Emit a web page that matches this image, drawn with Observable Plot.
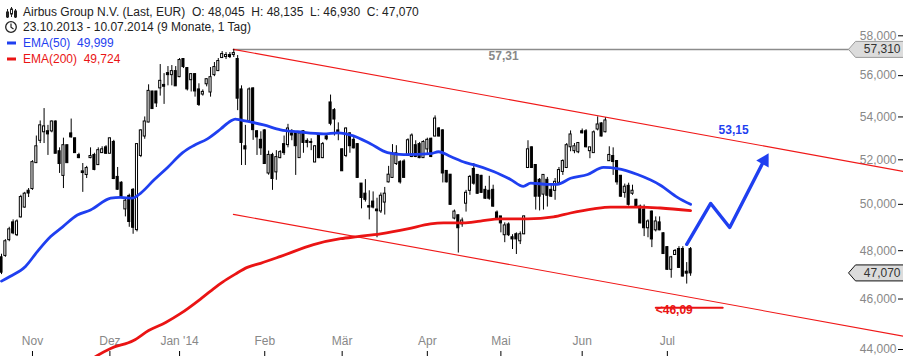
<!DOCTYPE html>
<html><head><meta charset="utf-8">
<script src="https://cdn.jsdelivr.net/npm/d3@7"></script>
<script src="https://cdn.jsdelivr.net/npm/@observablehq/plot@0.6"></script>
<style>
body{margin:0;background:#fff;}
#wrap{position:relative;width:903px;height:356px;overflow:hidden;font-family:"Liberation Sans",Arial,sans-serif;}
.row{position:absolute;left:0;height:16px;line-height:16px;font-size:12px;white-space:pre;}
.row svg{position:absolute;left:0;top:0;}
.row .tx{position:absolute;left:23px;top:0;}
</style></head><body>
<div id="wrap"><div id="chart"></div>
<div class="row" style="top:4px;color:#222">
<svg width="20" height="16"><g stroke="#222" fill="#222"><line x1="7.5" y1="5" x2="7.5" y2="14"/><rect x="6.5" y="8" width="2" height="5"/><line x1="11.5" y1="3" x2="11.5" y2="13"/><rect x="10.5" y="5" width="2" height="5" fill="#fff"/><line x1="15.5" y1="5" x2="15.5" y2="14"/><rect x="14.5" y="7" width="2" height="6"/></g></svg>
<span class="tx" id="t1"></span></div>
<div class="row" style="top:19px;color:#222">
<svg width="20" height="16"><circle cx="11" cy="8" r="5.3" fill="none" stroke="#222" stroke-width="1.3"/><path d="M11 4.5V8.3L13.5 10" fill="none" stroke="#222" stroke-width="1.2"/></svg>
<span class="tx" id="t2"></span></div>
<div class="row" style="top:35px;color:#1f3ff0">
<svg width="20" height="16"><rect x="7" y="6.5" width="9" height="3" fill="#1f3ff0"/></svg>
<span class="tx" id="t3"></span></div>
<div class="row" style="top:51px;color:#ea1414">
<svg width="20" height="16"><rect x="7" y="6.5" width="9" height="3" fill="#ea1414"/></svg>
<span class="tx" id="t4"></span></div>
</div>
<script>
// ---- candle data (daily, 23.10.2013 - 10.07.2014), index = trading day ----
const openP = [47.70,47.80,48.47,49.19,48.68,49.45,49.88,50.58,50.70,51.87,52.90,53.30,53.30,53.34,53.76,52.37,51.29,52.65,53.20,52.97,
52.19,51.45,51.33,52.10,52.20,51.78,52.33,52.55,52.30,52.80,51.20,50.94,49.80,50.35,50.62,48.90,52.20,53.10,53.76,55.20,
55.20,55.40,55.52,56.10,56.05,56.20,55.95,56.80,56.35,55.80,56.05,55.30,55.10,55.60,55.20,56.05,56.25,56.90,56.95,57.00,
57.05,56.80,55.30,52.60,53.81,55.35,53.30,52.90,53.34,51.40,52.20,51.45,52.10,52.70,52.70,53.20,53.20,52.10,53.30,52.85,
52.80,51.90,53.15,52.10,53.06,54.67,54.30,53.34,52.46,52.20,53.20,52.90,52.70,50.90,50.45,49.90,50.10,49.75,49.71,50.10,
51.00,51.20,51.83,51.87,51.90,52.20,52.15,52.65,52.70,52.10,52.50,52.95,53.10,53.43,53.34,51.47,51.30,49.40,49.50,49.15,
50.05,50.62,51.56,51.29,51.25,50.62,50.58,50.62,49.62,49.45,48.68,49.10,48.55,48.68,48.42,48.72,51.65,52.55,51.74,51.07,
50.45,51.07,50.62,50.62,50.98,51.47,51.65,52.60,52.42,52.37,53.30,53.30,52.42,52.33,53.43,53.67,53.30,51.96,52.15,51.92,
51.25,50.53,50.80,50.49,50.18,49.88,49.75,48.98,49.66,48.89,49.19,48.72,48.13,47.22,47.84,48.05,48.05,47.10,48.045];
const highP = [47.85,48.47,49.00,49.32,49.32,50.40,50.53,50.70,51.96,53.10,53.81,54.40,53.60,53.81,53.81,52.55,53.00,52.65,53.90,53.00,
52.30,51.83,51.70,52.55,52.30,52.55,52.60,52.65,53.00,52.90,51.65,51.00,50.27,50.45,50.70,52.75,53.40,54.00,55.55,55.23,
55.23,56.55,56.10,56.45,56.50,56.45,56.85,56.85,56.40,56.10,56.10,55.60,55.30,55.85,56.40,56.65,56.85,57.20,57.15,57.15,
57.31,57.00,55.50,53.60,55.40,55.40,53.35,53.30,53.40,52.40,52.30,52.42,52.42,53.10,53.65,53.40,53.20,53.25,53.34,52.97,
52.97,52.65,53.20,52.80,53.20,55.05,54.40,53.72,52.50,53.48,53.25,53.10,52.75,50.90,51.10,50.60,50.55,50.27,50.50,50.75,
51.70,52.70,52.65,51.96,52.00,52.97,53.20,52.88,52.80,52.88,53.00,53.00,54.05,53.50,53.40,51.50,51.33,49.75,49.53,49.40,
50.62,51.29,51.83,51.33,51.29,50.80,51.25,50.85,49.71,49.45,49.19,49.19,48.68,48.76,48.80,49.49,52.88,52.60,51.78,51.15,
51.33,51.20,50.85,51.15,51.65,52.00,52.75,53.34,52.75,52.80,53.43,53.40,52.55,53.34,54.00,53.72,53.95,52.60,52.55,51.96,
51.29,50.90,50.94,50.85,50.22,49.97,49.97,49.32,49.71,49.45,49.45,48.76,48.17,47.76,48.05,48.17,48.17,47.50,48.135];
const lowP = [47.00,47.72,48.38,48.68,48.60,49.40,49.83,50.30,50.62,51.83,52.75,52.75,52.20,53.25,52.30,51.38,50.70,51.83,53.00,52.30,
52.05,50.53,51.15,52.05,51.50,51.74,52.30,52.25,52.30,51.10,50.62,50.30,49.45,49.00,48.70,48.80,52.10,52.95,53.72,54.40,
54.45,55.00,54.60,55.50,55.50,55.50,55.90,56.35,55.25,55.20,54.95,54.50,55.00,55.45,54.95,55.95,56.20,56.85,56.80,56.85,
56.90,54.30,51.74,51.74,53.70,52.90,52.20,52.20,51.80,51.30,50.62,51.07,52.05,52.20,52.55,52.88,51.29,52.10,52.30,52.55,
52.42,51.87,52.05,52.05,52.88,53.58,53.10,52.88,51.47,52.10,52.30,52.50,51.15,49.80,50.10,49.32,49.80,48.55,49.60,49.53,
50.95,51.15,51.74,50.90,51.20,52.15,52.10,52.10,52.05,52.10,52.20,52.10,53.06,53.06,50.95,50.95,49.95,49.32,47.90,49.00,
49.66,50.40,50.85,50.45,50.49,50.22,50.18,49.88,49.36,48.76,48.34,48.60,48.05,47.84,48.26,48.68,51.60,51.60,49.75,49.71,
49.75,49.88,50.30,50.18,50.94,51.29,51.60,52.37,52.28,52.28,53.20,52.55,52.05,52.33,53.34,53.06,53.25,51.92,51.29,50.85,
50.30,50.27,49.92,50.40,49.88,49.15,48.60,48.55,48.13,48.80,48.85,47.84,47.18,46.85,47.80,47.26,46.90,46.61,46.93];
const closeP = [47.10,48.38,48.89,48.76,49.23,50.30,50.45,50.50,51.87,52.60,53.58,53.53,53.20,53.76,52.30,51.83,52.65,51.87,53.06,52.33,
52.10,51.42,51.60,52.15,51.56,52.42,52.46,52.30,52.97,51.15,50.67,50.36,50.14,49.25,49.00,52.70,53.34,53.76,55.23,54.40,
54.67,55.72,55.48,56.05,56.20,55.50,56.75,56.45,55.35,56.05,55.25,54.60,55.18,55.80,55.90,56.40,56.70,57.05,57.00,56.95,
57.10,54.90,52.80,52.50,55.30,53.40,53.06,52.55,51.83,52.20,51.15,52.10,52.33,52.33,53.43,53.15,52.65,53.20,52.80,52.80,
52.80,52.60,52.10,52.70,52.97,53.70,53.90,53.30,51.50,53.43,52.65,52.55,51.20,50.30,50.22,49.88,49.88,49.72,50.36,50.45,
51.30,52.28,52.28,51.00,51.20,52.88,53.10,52.15,52.10,52.80,52.90,52.15,53.90,53.10,51.40,51.00,50.00,49.66,48.98,49.27,
50.49,51.20,50.94,50.49,50.53,50.27,50.27,49.92,49.40,49.19,49.06,48.68,48.50,48.50,48.68,49.45,52.46,51.65,50.36,50.36,
51.29,50.40,50.36,50.98,51.51,51.92,52.65,53.15,52.60,52.75,53.25,52.60,52.55,53.25,53.62,53.10,53.81,52.20,51.92,51.00,
50.36,50.76,50.00,50.58,49.92,49.19,48.98,49.23,48.50,49.23,48.89,47.88,47.22,47.70,47.97,47.30,46.94,47.06,47.07];

// ---- moving averages (index, value) ----
const ema50Idx = [0,2.3,6.2,9.3,12.7,15.8,19.6,23.0,28.2,30.7,33.8,35.9,39.3,42.9,46.8,49.6,53.2,56.6,59.2,60.4,61.7,64.3,67.7,72.1,76.5,83.2,86.8,90.9,95.3,99.7,103.9,110.8,112.9,116.0,119.9,121.9,127.1,131.5,134.8,136.7,141.1,143.6,147.0,151.4,155.5,159.1,164.3,170.2,174.6,178];
const ema50Val = [46.73,46.93,47.34,47.97,48.60,49.02,49.53,49.75,50.27,50.31,50.27,50.49,51.07,51.65,52.33,52.65,52.97,53.43,53.81,53.90,53.86,53.76,53.62,53.39,53.30,53.20,53.25,53.11,52.74,52.33,52.24,52.28,52.37,52.15,51.87,51.78,51.47,51.11,50.80,50.94,50.89,50.89,51.16,51.33,51.65,51.60,51.33,50.85,50.31,49.999];
const ema200Idx = [23.5,24.8,28.2,34.1,38.0,42.4,46.2,51.4,54.0,57.1,60.4,63.5,66.9,72.1,80.6,87.6,92.0,97.9,104.9,110.8,114.2,119.3,123.7,128.9,135.9,142.6,147.0,152.9,157.3,165.1,170.2,178];
const ema200Val = [43.65,43.77,44.04,44.35,44.74,45.06,45.41,46.00,46.32,46.69,47.02,47.30,47.47,47.76,48.26,48.51,48.60,48.72,48.93,49.15,49.19,49.19,49.27,49.36,49.36,49.45,49.62,49.80,49.88,49.88,49.84,49.724];

// ---- trend channel, forecast path, annotations ----
const upperIdx = [59.9, 233], upperVal = [57.31, 51.47];
const lowerIdx = [59.9, 233], lowerVal = [49.56, 44.52];
const highLineIdx = [59.9, 218.8], highLineVal = 57.31;
const pathIdx = [177.0, 183.2, 188.1, 196.6], pathVal = [48.27, 50.04, 48.99, 51.84];
const arrowHeadIdx = 197.1, arrowHeadVal = 51.97;
const targetLineIdx = [169.0, 186.3], targetLineVal = 45.65;
const noteHigh = {i: 129.7, v: 57.31, t: "57,31"};
const noteTarget = {i: 189.1, v: 53.15, t: "53,15"};
const noteLow = {i: 169.0, v: 45.55, t: "<46,09"};

// ---- axes ----
const yTicks = [44, 46, 48, 50, 52, 54, 56, 58];
const monthIdx = [8, 28, 46, 68, 88, 110, 129, 150, 172];
const monthLabels = ["Nov", "Dez", "Jan '14", "Feb", "Mär", "Apr", "Mai", "Jun", "Jul"];

// ---- header texts ----
const title = "Airbus Group N.V. (Last, EUR)";
const period = "23.10.2013 - 10.07.2014 (9 Monate, 1 Tag)";
const ema50Label = "EMA(50)", ema200Label = "EMA(200)";

const fmt3 = v => v.toFixed(3).replace(".", ",");
const fmt2 = v => v.toFixed(2).replace(".", ",");
const n = openP.length;
const last = n - 1;
const candles = openP.map((o, i) => ({i, o, h: highP[i], l: lowP[i], c: closeP[i]}));
const ema50 = ema50Idx.map((i, k) => ({i, v: ema50Val[k]}));
const ema200 = ema200Idx.map((i, k) => ({i, v: ema200Val[k]}));
const upper = upperIdx.map((i, k) => ({i, v: upperVal[k]}));
const lower = lowerIdx.map((i, k) => ({i, v: lowerVal[k]}));
const highLine = highLineIdx.map(i => ({i, v: highLineVal}));
const path = pathIdx.map((i, k) => ({i, v: pathVal[k]}));
const targetLine = targetLineIdx.map(i => ({i, v: targetLineVal}));
const maxHigh = d3.max(highP);

document.getElementById("t1").textContent =
  `${title}  O: ${fmt3(openP[last])}  H: ${fmt3(highP[last])}  L: ${fmt3(lowP[last])}  C: ${fmt3(closeP[last])}`;
document.getElementById("t2").textContent = period;
document.getElementById("t3").textContent = `${ema50Label}  ${fmt3(ema50Val[ema50Val.length - 1])}`;
document.getElementById("t4").textContent = `${ema200Label}  ${fmt3(ema200Val[ema200Val.length - 1])}`;

const BLUE = "#1f3ff0", RED = "#ea1414";
const pentagon = {draw(ctx) { ctx.moveTo(-49, 0); ctx.lineTo(-42, -8); ctx.lineTo(7, -8); ctx.lineTo(7, 8); ctx.lineTo(-42, 8); ctx.closePath(); }};

const chart = Plot.plot({
  width: 903, height: 356,
  marginLeft: 0, marginRight: 6, marginTop: 0, marginBottom: 5,
  style: {background: "#fff", fontFamily: "'Liberation Sans', Arial, sans-serif", fontSize: "12px"},
  x: {type: "linear", domain: [0, 233], range: [1, 903], axis: null, label: null},
  y: {type: "log", domain: [44, 58], range: [349, 35.3], axis: null, label: null},
  marks: [
    Plot.axisX(monthIdx, {anchor: "bottom", tickSize: 5, tickFormat: () => "", stroke: "#000"}),
    Plot.text(monthIdx, {x: d => d, text: (d, k) => monthLabels[k], frameAnchor: "bottom", dy: -7, fill: "#888"}),
    Plot.axisY(yTicks, {anchor: "right", tickSize: 5, tickFormat: () => "", stroke: "#000"}),
    Plot.text(yTicks, {y: d => d, text: d => fmt3(d), frameAnchor: "right", textAnchor: "end", dx: -1, fill: "#888"}),
    Plot.line(highLine, {x: "i", y: "v", stroke: "#8c8c8c", strokeWidth: 1.5}),
    Plot.line(upper, {x: "i", y: "v", stroke: "#f01818", strokeWidth: 1.1}),
    Plot.line(lower, {x: "i", y: "v", stroke: "#f01818", strokeWidth: 1.1}),
    Plot.ruleX(candles, {x: "i", y1: "l", y2: "h", stroke: "#000", strokeWidth: 1}),
    Plot.rect(candles, {x1: d => d.i - 0.27, x2: d => d.i + 0.27, y1: "o", y2: "c",
      fill: d => d.c >= d.o ? "#fff" : "#000", stroke: "#000", strokeWidth: 1, insetTop: -0.5, insetBottom: -0.5}),
    Plot.line(ema200, {x: "i", y: "v", stroke: RED, strokeWidth: 2.8, curve: "monotone-x", clip: false}),
    Plot.line(ema50, {x: "i", y: "v", stroke: BLUE, strokeWidth: 2.8, curve: "monotone-x"}),
    Plot.line(path, {x: "i", y: "v", stroke: BLUE, strokeWidth: 3.4}),
    Plot.dot([{i: arrowHeadIdx, v: arrowHeadVal}], {x: "i", y: "v", symbol: "triangle", r: 5.3, rotate: 30, fill: BLUE, stroke: "none"}),
    Plot.line(targetLine, {x: "i", y: "v", stroke: RED, strokeWidth: 2}),
    Plot.text([noteHigh], {x: "i", y: "v", text: "t", dy: 6.5, fill: "#888", fontWeight: "bold"}),
    Plot.text([noteTarget], {x: "i", y: "v", text: "t", dy: -5, fill: BLUE, fontWeight: "bold"}),
    Plot.text([noteLow], {x: "i", y: "v", text: "t", textAnchor: "start", fill: RED, fontWeight: "bold"}),
    Plot.dot([maxHigh], {y: d => d, frameAnchor: "right", symbol: pentagon, fill: "#dcdcdc", stroke: "#999", strokeWidth: 1}),
    Plot.text([maxHigh], {y: d => d, text: d => fmt3(d), frameAnchor: "right", textAnchor: "end", dx: 3, fill: "#333"}),
    Plot.dot([closeP[last]], {y: d => d, frameAnchor: "right", symbol: pentagon, fill: "#dcdcdc", stroke: "#111", strokeWidth: 1}),
    Plot.text([closeP[last]], {y: d => d, text: d => fmt3(d), frameAnchor: "right", textAnchor: "end", dx: 3, fill: "#333"})
  ]
});
document.getElementById("chart").appendChild(chart);
</script>
</body></html>
